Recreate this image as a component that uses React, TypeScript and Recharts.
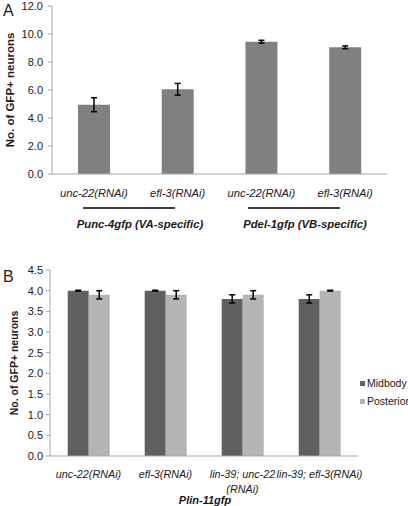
import { Bar, BarChart, ErrorBar, Legend, XAxis, YAxis } from "recharts";

// panel A
const aCategories = ["unc-22(RNAi)", "efl-3(RNAi)", "unc-22(RNAi)", "efl-3(RNAi)"];
const aValues = [4.95, 6.05, 9.45, 9.05];
const aErrors = [0.5, 0.42, 0.1, 0.1];
const aTicks = [0, 2, 4, 6, 8, 10, 12];
const aGroups = ["Punc-4gfp (VA-specific)", "Pdel-1gfp (VB-specific)"];

// panel B
const bCategories = ["unc-22(RNAi)", "efl-3(RNAi)", "lin-39; unc-22\n(RNAi)", "lin-39; efl-3(RNAi)"];
const bMidbody = [4.0, 4.0, 3.8, 3.8];
const bMidbodyErr = [0.01, 0.01, 0.1, 0.1];
const bPosterior = [3.9, 3.9, 3.9, 4.0];
const bPosteriorErr = [0.1, 0.1, 0.1, 0.01];
const bTicks = [0, 0.5, 1, 1.5, 2, 2.5, 3, 3.5, 4, 4.5];
const bAxisTitle = "Plin-11gfp";

const FONT = "'Liberation Sans', Arial, sans-serif";
const AXIS = "#a6a6a6";
const INK = "#1a1a1a";

const aData = aCategories.map((name, i) => ({ name, value: aValues[i], err: aErrors[i] }));
const bData = bCategories.map((name, i) => ({
  name,
  Midbody: bMidbody[i],
  midErr: bMidbodyErr[i],
  Posterior: bPosterior[i],
  postErr: bPosteriorErr[i],
}));

const CatTick = ({ x, y, payload, fontSize, dy }: any) => {
  const lines = String(payload.value).split("\n");
  return (
    <text x={x} y={y} textAnchor="middle" fontSize={fontSize} fontStyle="italic" fill={INK} fontFamily={FONT}>
      {lines.map((l, i) => (
        <tspan key={i} x={x} dy={i === 0 ? dy : 15}>
          {l}
        </tspan>
      ))}
    </text>
  );
};

const LegendBox = ({ payload }: any) => (
  <div style={{ fontFamily: FONT, fontSize: 10.5, color: INK }}>
    {(payload || []).map((p: any) => (
      <div key={p.value} style={{ display: "flex", alignItems: "center", height: 18 }}>
        <span style={{ width: 5, height: 5, background: p.color, marginRight: 2, display: "inline-block" }} />
        <span>{p.value}</span>
      </div>
    ))}
  </div>
);

export default function App() {
  return (
    <div style={{ position: "absolute", left: 0, top: 0, width: 408, height: 506, background: "#fff", fontFamily: FONT, overflow: "hidden" }}>
      <div style={{ position: "absolute", left: 0, top: 0 }}>
        <BarChart
          width={408}
          height={240}
          data={aData}
          barCategoryGap="31%"
          margin={{ top: 6, right: 21, left: 0, bottom: 36 }}
        >
          <YAxis
            width={52}
            domain={[0, 12]}
            ticks={aTicks}
            tickFormatter={(v: number) => v.toFixed(1)}
            tick={{ fontSize: 11, fill: INK, fontFamily: FONT }}
            tickSize={4}
            tickMargin={5}
            stroke={AXIS}
            label={{
              value: "No. of GFP+ neurons",
              angle: -90,
              position: "insideLeft",
              offset: 10,
              style: { textAnchor: "middle", fontWeight: "bold", fontSize: 11.5, fill: INK, fontFamily: FONT },
            }}
          />
          <XAxis
            dataKey="name"
            height={30}
            stroke={AXIS}
            tickLine={false}
            tickSize={0}
            tickMargin={0}
            interval={0}
            tick={<CatTick fontSize={11.2} dy={23} />}
          />
          <Bar dataKey="value" fill="#808080" isAnimationActive={false}>
            <ErrorBar dataKey="err" width={3} stroke="#000" strokeWidth={1.5} />
          </Bar>
        </BarChart>
      </div>
      <svg width={408} height={250} style={{ position: "absolute", left: 0, top: 0 }}>
        <text x={3} y={16} fontSize={16} fill={INK} fontFamily={FONT}>A</text>
        <line x1={83} x2={175} y1={208} y2={208} stroke="#000" strokeWidth={1.5} />
        <line x1={248} x2={340} y1={208} y2={208} stroke="#000" strokeWidth={1.5} />
        <text x={140} y={228} textAnchor="middle" fontSize={11.3} fontWeight="bold" fontStyle="italic" fill={INK} fontFamily={FONT}>
          {aGroups[0]}
        </text>
        <text x={305} y={228} textAnchor="middle" fontSize={11.3} fontWeight="bold" fontStyle="italic" fill={INK} fontFamily={FONT}>
          {aGroups[1]}
        </text>
      </svg>

      <div style={{ position: "absolute", left: 0, top: 256 }}>
        <BarChart
          width={408}
          height={250}
          data={bData}
          barCategoryGap="23%"
          barGap={0}
          margin={{ top: 14, right: 50, left: 0, bottom: 20 }}
        >
          <YAxis
            width={50}
            domain={[0, 4.5]}
            ticks={bTicks}
            tickFormatter={(v: number) => v.toFixed(1)}
            tick={{ fontSize: 11, fill: INK, fontFamily: FONT }}
            tickSize={4}
            tickMargin={3}
            stroke={AXIS}
            label={{
              value: "No. of GFP+ neurons",
              angle: -90,
              position: "insideLeft",
              offset: 14,
              style: { textAnchor: "middle", fontWeight: "bold", fontSize: 10.5, fill: INK, fontFamily: FONT },
            }}
          />
          <XAxis
            dataKey="name"
            height={30}
            stroke={AXIS}
            tickLine={false}
            tickSize={0}
            tickMargin={0}
            interval={0}
            tick={<CatTick fontSize={10.8} dy={22} />}
          />
          <Legend
            layout="vertical"
            align="center"
            verticalAlign="middle"
            content={<LegendBox />}
            wrapperStyle={{ left: 360, top: 118, width: 60 }}
          />
          <Bar dataKey="Midbody" fill="#606060" isAnimationActive={false}>
            <ErrorBar dataKey="midErr" width={3} stroke="#000" strokeWidth={1.5} />
          </Bar>
          <Bar dataKey="Posterior" fill="#b4b4b4" isAnimationActive={false}>
            <ErrorBar dataKey="postErr" width={3} stroke="#000" strokeWidth={1.5} />
          </Bar>
        </BarChart>
      </div>
      <svg width={408} height={256} style={{ position: "absolute", left: 0, top: 250 }}>
        <text x={3} y={32} fontSize={16} fill={INK} fontFamily={FONT}>B</text>
        <text x={205} y={254} textAnchor="middle" fontSize={11} fontWeight="bold" fontStyle="italic" fill={INK} fontFamily={FONT}>
          {bAxisTitle}
        </text>
      </svg>
    </div>
  );
}
